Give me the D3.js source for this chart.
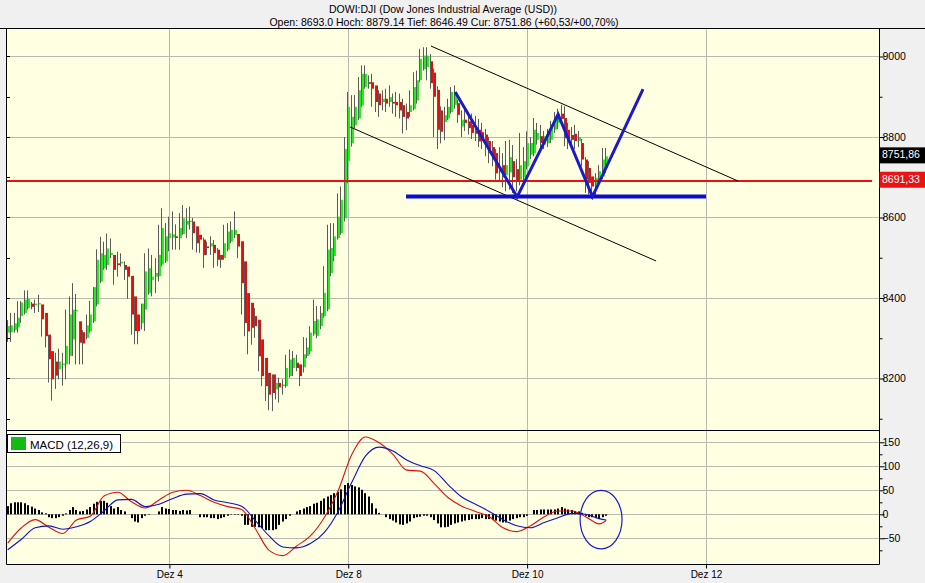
<!DOCTYPE html>
<html><head><meta charset="utf-8">
<script src="https://cdn.jsdelivr.net/npm/d3@7"></script>
<style>body{margin:0;background:#f0f0f0;} svg{display:block;font-family:"Liberation Sans",Arial,sans-serif;}</style>
</head><body><svg id="c" width="925" height="583"></svg>
<script>
const titleText = "DOWI:DJI (Dow Jones Industrial Average (USD))";
const subtitleText = "Open: 8693.0 Hoch: 8879.14 Tief: 8646.49 Cur: 8751.86 (+60,53/+00,70%)";
const dayLabels = ["Dez 4","Dez 8","Dez 10","Dez 12"];
const dayStartIdx = [47,99,151,203];
const priceTicks = [8200,8400,8600,8800,9000];
const priceMinorTicks = [8100,8300,8500,8700,8900];
const macdTicks = [-50,0,50,100,150];
const macdMinorTicks = [-75,-25,25,75,125];
const legendLabel = "MACD (12,26,9)";
const lastPrice = 8751.86, prevClose = 8691.33;

const opens = [8314,8315,8320,8328,8355,8363,8375,8386,8382,8384,
8384,8363,8309,8268,8242,8223,8235,8235,8256,8297,
8368,8342,8315,8301,8318,8342,8384,8441,8474,8482,
8507,8507,8486,8486,8482,8478,8455,8404,8359,8338,
8371,8412,8445,8453,8454,8483,8491,8549,8550,8553,
8549,8559,8582,8589,8590,8578,8557,8545,8528,8528,
8532,8520,8507,8499,8520,8540,8557,8559,8541,8491,
8412,8388,8355,8346,8297,8251,8214,8210,8173,8189,
8181,8181,8206,8226,8239,8235,8228,8256,8268,8310,
8306,8330,8355,8372,8462,8504,8549,8561,8598,8740,
8784,8829,8846,8879,8924,8936,8936,8928,8908,8887,
8895,8887,8887,8887,8887,8879,8862,8862,8870,8891,
8941,8969,8974,8988,8960,8917,8866,8837,8846,8862,
8880,8884,8826,8843,8839,8830,8815,8818,8812,8806,
8790,8775,8760,8712,8730,8705,8712,8740,8720,8694,
8700,8727,8756,8760,8793,8802,8781,8785,8793,8818,
8835,8858,8847,8818,8805,8808,8790,8785,8744,8723,
8702,8682,8694,8702,8723];
const highs = [8345,8363,8363,8392,8392,8419,8419,8390,8396,8408,
8384,8363,8309,8268,8264,8274,8264,8371,8404,8437,
8410,8342,8320,8359,8393,8427,8521,8552,8540,8560,
8548,8507,8515,8511,8491,8478,8455,8404,8359,8386,
8511,8523,8507,8499,8582,8623,8586,8602,8615,8583,
8611,8631,8623,8627,8599,8578,8557,8550,8540,8553,
8544,8524,8507,8582,8586,8590,8615,8559,8541,8491,
8412,8388,8375,8346,8297,8251,8214,8210,8210,8202,
8198,8259,8272,8268,8259,8235,8303,8301,8330,8396,
8380,8380,8479,8582,8586,8586,8660,8677,8800,8912,
8904,8904,8949,8978,8978,8953,8957,8928,8916,8916,
8920,8928,8908,8912,8908,8895,8883,8916,8961,8965,
9019,9023,9023,9006,8970,8926,8876,8875,8895,8924,
8928,8893,8866,8868,8862,8858,8852,8845,8835,8820,
8800,8790,8770,8775,8760,8790,8793,8780,8745,8810,
8775,8814,8800,8847,8835,8830,8815,8820,8840,8862,
8870,8880,8876,8835,8825,8830,8815,8795,8750,8740,
8702,8710,8730,8773,8773];
const lows = [8291,8291,8314,8314,8338,8359,8371,8372,8363,8365,
8304,8277,8190,8145,8174,8198,8182,8198,8235,8256,
8235,8235,8235,8297,8314,8338,8379,8437,8470,8470,
8499,8433,8453,8478,8445,8398,8309,8285,8285,8322,
8318,8408,8404,8412,8441,8479,8487,8516,8520,8520,
8520,8557,8549,8570,8520,8513,8512,8475,8507,8507,
8475,8479,8475,8495,8516,8536,8549,8499,8359,8305,
8260,8284,8301,8218,8181,8144,8121,8119,8148,8140,
8160,8177,8202,8206,8218,8181,8215,8250,8260,8306,
8300,8322,8351,8367,8454,8491,8545,8557,8590,8685,
8776,8821,8842,8875,8920,8920,8875,8862,8850,8866,
8862,8875,8858,8850,8846,8809,8817,8850,8866,8883,
8936,8965,8941,8920,8800,8770,8784,8792,8842,8858,
8870,8835,8800,8815,8806,8795,8790,8775,8770,8752,
8735,8727,8694,8690,8675,8665,8669,8661,8665,8680,
8686,8720,8745,8752,8781,8775,8770,8775,8785,8810,
8820,8830,8777,8770,8775,8770,8775,8727,8661,8657,
8646,8650,8680,8695,8710];
const closes = [8330,8332,8337,8351,8389,8396,8398,8378,8386,8387,
8347,8305,8248,8198,8207,8242,8237,8281,8359,8371,
8370,8289,8287,8332,8359,8427,8495,8511,8507,8523,
8512,8470,8482,8490,8470,8453,8359,8318,8318,8386,
8466,8474,8453,8462,8507,8574,8553,8561,8558,8549,
8574,8598,8592,8592,8561,8536,8545,8507,8524,8536,
8512,8495,8495,8536,8565,8569,8569,8528,8437,8338,
8317,8326,8330,8255,8206,8181,8160,8164,8189,8178,
8185,8226,8247,8251,8226,8206,8260,8277,8314,8343,
8347,8363,8413,8520,8524,8553,8602,8644,8770,8875,
8850,8875,8916,8957,8957,8932,8920,8887,8879,8895,
8883,8899,8883,8879,8866,8850,8846,8879,8924,8941,
8994,9002,9002,8934,8900,8818,8813,8854,8875,8912,
8910,8855,8843,8835,8822,8810,8808,8789,8790,8775,
8760,8745,8710,8724,8700,8730,8750,8700,8690,8730,
8740,8785,8785,8818,8810,8785,8802,8810,8826,8851,
8858,8845,8797,8789,8793,8790,8800,8744,8694,8686,
8677,8698,8715,8744,8751.86];

const histValues = [17,23,25,25,25,23,19,16,12,9,
4,2,-6,-8,-8,-6,-3,2,9,15,
9,6,7,10,15,22,26,28,28,24,
17,12,15,9,6,0,-8,-15,-17,-8,
-3,-1,0,0,6,15,12,11,9,9,
7,9,8,9,0,0,-6,-6,-6,-8,
-8,-10,-8,-6,-3,-1,-1,-1,-3,-22,
-22,-26,-26,-27,-29,-33,-33,-33,-31,-22,
-15,-10,-3,0,6,9,12,15,17,22,
24,28,33,37,40,44,47,52,61,65,
61,58,56,51,44,37,23,12,3,0,
-6,-10,-13,-17,-21,-22,-19,-15,-8,-6,
-5,-3,-3,-6,-12,-19,-27,-27,-26,-22,
-19,-17,-15,-13,-12,-10,-10,-10,-8,-10,
-10,-12,-13,-15,-17,-17,-13,-10,-8,-6,
-6,-3,0,9,9,10,10,10,10,10,
12,15,12,10,9,7,6,3,-3,-6,
-6,-8,-10,-6,-3];
const lineIdx = [0,4,8,12,16,20,24,28,32,36,40,44,48,52,56,60,64,68,72,76,80,84,88,92,96,100,104,108,112,116,120,124,128,132,136,140,144,148,152,156,160,164,168,172,174];
const macdValues = [-60,-28,-11,-27,-40,-12,-4,38,46,26,13,30,46,50,39,25,16,10,-30,-75,-86,-66,-45,-7,48,124,161,149,125,92,90,64,35,17,6,-5,-28,-36,-24,-5,7,7,-5,-20,-13];
const signalValues = [-74,-52,-28,-24,-31,-26,-15,7,30,31,16,21,33,42,43,30,24,17,-13,-45,-68,-70,-61,-38,5,66,121,140,132,113,101,91,62,36,21,6,-11,-24,-28,-17,-7,2,0,-9,-12];

// drawn annotations (in data coordinates: bar index, price)
const channelUpper = [[123.05,9026],[212.3,8690.7]];
const channelLower = [[99.5,8825],[188.5,8492]];
const wPattern = [[130.1,8912],[148.1,8651],[160.0,8856],[170.0,8652],[184.7,8919]];
const supportLine = [[115.8,8652],[203.0,8652]];
const macdEllipse = {center:[172.5,-11], rIdx:6.1, rVal:61};

const svg = d3.select("#c");
const W=925, H=583;
const L=7, R=879, pTop=29, pBot=430, mTop=430, mBot=564;
const x = d3.scaleLinear().domain([-0.2,253.3]).range([L,R]);
const yP = d3.scaleLinear().domain([8074.5,9068.3]).range([429,pTop]);
const yM = d3.scaleLinear().domain([-103.5,173.5]).range([mBot,431]);

const bg = "#f0f0f0", plotBg = "#ffffe1", grid = "#b9b9b0";
svg.append("rect").attr("width",W).attr("height",H).attr("fill",bg);
svg.append("rect").attr("x",L).attr("y",pTop).attr("width",R-L).attr("height",mBot-pTop).attr("fill",plotBg);

const cr = v => Math.round(v)+0.5;
// gridlines
const gP = svg.append("g");
priceTicks.forEach(t=>gP.append("line").attr("x1",L).attr("x2",R).attr("y1",cr(yP(t))).attr("y2",cr(yP(t))).attr("stroke",grid));
macdTicks.forEach(t=>gP.append("line").attr("x1",L).attr("x2",R).attr("y1",cr(yM(t))).attr("y2",cr(yM(t))).attr("stroke",grid));
dayStartIdx.forEach(d=>{
  gP.append("line").attr("x1",cr(x(d))).attr("x2",cr(x(d))).attr("y1",pTop).attr("y2",pBot).attr("stroke",grid);
  gP.append("line").attr("x1",cr(x(d))).attr("x2",cr(x(d))).attr("y1",mTop).attr("y2",mBot).attr("stroke",grid);
});

// candles
const bars = d3.range(closes.length).map(i=>({i,o:opens[i],h:highs[i],l:lows[i],c:closes[i]}));
const gC = svg.append("g");
bars.forEach(b=>{
  const xr = Math.round(x(b.i));
  gC.append("line").attr("x1",xr-0.5).attr("x2",xr-0.5).attr("y1",yP(b.h)).attr("y2",yP(b.l)).attr("stroke","#5a5a5a").attr("stroke-width",1);
  const top = yP(Math.max(b.o,b.c)), bot = yP(Math.min(b.o,b.c));
  gC.append("rect").attr("x",xr).attr("width",2).attr("y",top).attr("height",Math.max(1.2,bot-top))
    .attr("fill", b.c>=b.o ? "#22ee22" : "#e01010");
});

// previous close line
svg.append("rect").attr("x",L).attr("width",R-7-L).attr("y",Math.round(yP(prevClose))-1).attr("height",2).attr("fill","#e81010");

// annotations
const lp = d3.line().x(d=>x(d[0])).y(d=>yP(d[1]));
svg.append("path").attr("d",lp(channelUpper)).attr("stroke","#000").attr("fill","none").attr("stroke-width",1);
svg.append("path").attr("d",lp(channelLower)).attr("stroke","#000").attr("fill","none").attr("stroke-width",1);
svg.append("path").attr("d",lp(supportLine)).attr("stroke","#0c0ccc").attr("fill","none").attr("stroke-width",4);
svg.append("path").attr("d",lp(wPattern)).attr("stroke","#1a1ac8").attr("fill","none").attr("stroke-width",3).attr("stroke-linejoin","miter");

// MACD histogram
const gH = svg.append("g");
histValues.forEach((v,i)=>{
  if(v===0) return;
  const xr = Math.round(x(i));
  const y0 = yM(0), y1 = yM(v);
  gH.append("rect").attr("x",xr-1).attr("width",2).attr("y",Math.min(y0,y1)).attr("height",Math.abs(y1-y0)).attr("fill","#000");
});
const lm = d3.line().x((d,k)=>x(lineIdx[k])).y(d=>yM(d)).curve(d3.curveMonotoneX);
svg.append("path").attr("d",lm(macdValues)).attr("stroke","#e01010").attr("fill","none").attr("stroke-width",1.1);
svg.append("path").attr("d",lm(signalValues)).attr("stroke","#1010c0").attr("fill","none").attr("stroke-width",1.1);

// ellipse annotation
const ec = macdEllipse.center;
svg.append("ellipse").attr("cx",x(ec[0])).attr("cy",yM(ec[1]))
  .attr("rx",x(ec[0]+macdEllipse.rIdx)-x(ec[0])).attr("ry",yM(ec[1]-macdEllipse.rVal)-yM(ec[1]))
  .attr("fill","none").attr("stroke","#1a1ac8").attr("stroke-width",1.2);

// right axis area
svg.append("rect").attr("x",R).attr("y",pTop).attr("width",W-R).attr("height",H-pTop).attr("fill",bg);
svg.append("rect").attr("x",0).attr("y",mBot).attr("width",W).attr("height",H-mBot).attr("fill",bg);

// borders
const bl = (x1,y1,x2,y2)=>svg.append("line").attr("x1",x1).attr("y1",y1).attr("x2",x2).attr("y2",y2).attr("stroke","#000").attr("stroke-width",1);
bl(0,pTop-0.5,W,pTop-0.5);
bl(L-0.5,pTop,L-0.5,mBot+0.5);
bl(R+0.5,pTop,R+0.5,mBot+0.5);
bl(L,pBot+0.5,R,pBot+0.5);
bl(L-0.5,mBot+0.5,R+0.5,mBot+0.5);

// right axis ticks and labels
const axP = d3.axisRight(yP).tickValues(priceTicks).tickSize(5).tickFormat(d3.format("d"));
const gAP = svg.append("g").attr("transform",`translate(${R+0.5},0)`).call(axP);
const axPm = d3.axisRight(yP).tickValues(priceMinorTicks).tickSize(3).tickFormat("");
svg.append("g").attr("transform",`translate(${R+0.5},0)`).call(axPm);
const axM = d3.axisRight(yM).tickValues(macdTicks).tickSize(5).tickFormat(d3.format("d"));
const gAM = svg.append("g").attr("transform",`translate(${R+0.5},0)`).call(axM);
const axMm = d3.axisRight(yM).tickValues(macdMinorTicks).tickSize(3).tickFormat("");
svg.append("g").attr("transform",`translate(${R+0.5},0)`).call(axMm);
svg.selectAll(".domain").remove();
svg.selectAll(".tick line").attr("stroke","#000");
[gAP,gAM].forEach(g=>g.selectAll(".tick text").attr("x",3).attr("font-size","10.5px").attr("fill","#000").attr("font-family","Liberation Sans, Arial, sans-serif"));
// left inner ticks
[...priceTicks,...priceMinorTicks].forEach(t=>bl(L,cr(yP(t)),L+3,cr(yP(t))));

// bottom axis
const axB = d3.axisBottom(x).tickValues(dayStartIdx).tickSize(4).tickFormat((d,k)=>dayLabels[k]);
const gB = svg.append("g").attr("transform",`translate(0,${mBot+0.5})`).call(axB);
gB.select(".domain").remove();
gB.selectAll(".tick line").attr("stroke","#000");
gB.selectAll(".tick text").attr("font-size","10px").attr("fill","#000").attr("dy","0.9em").attr("y",4).attr("font-family","Liberation Sans, Arial, sans-serif");

// value boxes
const fmtC = v => v.toFixed(2).replace(".",",");
const box = (v,fill)=>{
  const yc = yP(v);
  svg.append("rect").attr("x",R+0.5).attr("y",yc-9).attr("width",W-R).attr("height",16).attr("fill",fill);
  svg.append("text").attr("x",R+3).attr("y",yc-1).attr("dominant-baseline","middle").attr("font-size","10.5px").attr("fill","#fff").text(fmtC(v));
};
box(lastPrice,"#000");
box(prevClose,"#ee1111");

// legend
svg.append("rect").attr("x",L+0.5).attr("y",434.5).attr("width",113).attr("height",18).attr("fill","#fff").attr("stroke","#000");
svg.append("rect").attr("x",11).attr("y",437).attr("width",15).attr("height",13).attr("fill","#11bb11");
svg.append("text").attr("x",30).attr("y",448.5).attr("font-size","11.5px").attr("fill","#000").text(legendLabel);

// title
svg.append("text").attr("x",443).attr("y",12.5).attr("text-anchor","middle").attr("font-size","10.5px").attr("fill","#000").text(titleText);
svg.append("text").attr("x",444).attr("y",26).attr("text-anchor","middle").attr("font-size","10.5px").attr("fill","#000").text(subtitleText);
</script></body></html>
